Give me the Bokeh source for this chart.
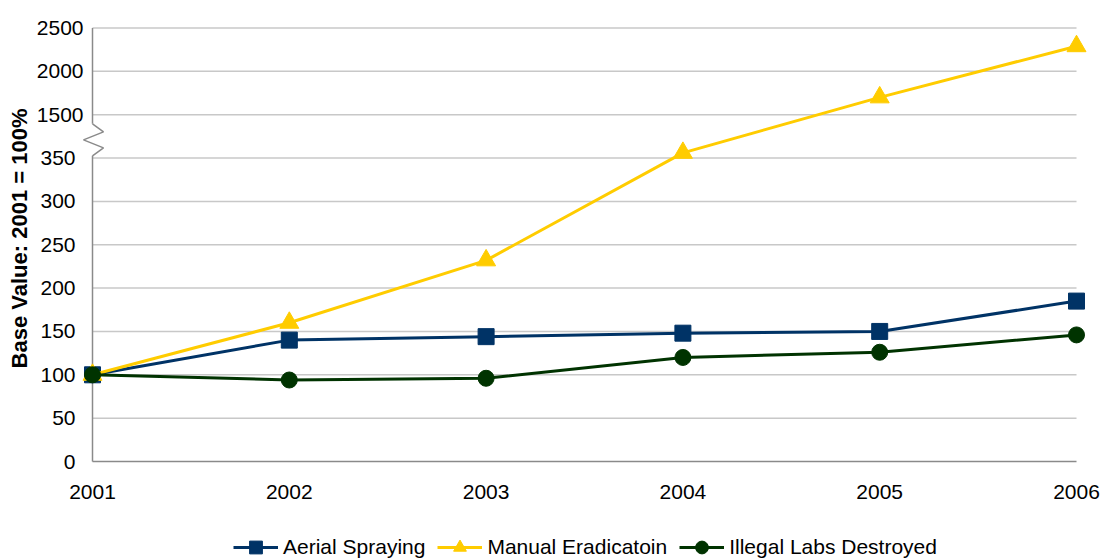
import math
import numpy as np
from bokeh.plotting import figure
from bokeh.models import FixedTicker, Range1d, Legend, LegendItem, Label, LinearAxis
from bokeh.embed import file_html
from bokeh.resources import INLINE

# ---- data: index values, 2001 = 100 ----
years = [2001, 2002, 2003, 2004, 2005, 2006]
aerial_spraying = [100, 140, 144, 148, 150, 185]
manual_eradication = [100, 160, 232, 356, 1700, 2290]
illegal_labs = [100, 94, 96, 120, 126, 146]

series_names = ["Aerial Spraying", "Manual Eradicatoin", "Illegal Labs Destroyed"]
year_labels = [str(y) for y in years]

lower_ticks = [0, 50, 100, 150, 200, 250, 300, 350]
upper_ticks = [1500, 2000, 2500]
upper_tick_labels = ["1500", "2000", "2500"]
y_title = "Base Value: 2001 = 100%"

# ---- broken y scale: linear below the break, compressed 10:1 above it ----
UPPER_START = 1500
UPPER_BASE = 400
UPPER_RATIO = 10
BREAK_AT = 371          # where the zigzag sits on the axis


def to_axis(v):
    v = np.asarray(v, dtype=float)
    return np.where(v >= UPPER_START, UPPER_BASE + (v - UPPER_START) / UPPER_RATIO, v)


# ---- layout: the frame covers the whole canvas, axes sit at fixed spots ----
FONT = "Liberation Sans"
W, H = 1101, 559
X0_PX, X1_PX = 92, 1076      # columns of the first and last year
Y0_PX, TOP_PX = 461, 27.5    # rows of the zero line and the top gridline
y_top = float(to_axis(upper_ticks[-1]))
ppy = (X1_PX - X0_PX) / (years[-1] - years[0])
ppu = (Y0_PX - TOP_PX) / y_top
x_range = Range1d(years[0] - X0_PX / ppy, years[-1] + (W - X1_PX) / ppy)
y_range = Range1d(-(H - Y0_PX) / ppu, Y0_PX / ppu)

AXIS_COLOR = "#8a8a8a"
GRID_COLOR = "#c8c8c8"
NAVY = "#003366"
GOLD = "#FFCC00"
GREEN = "#003300"

p = figure(
    width=W, height=H, min_border=0,
    min_border_left=0, min_border_right=0, min_border_top=0, min_border_bottom=0,
    x_range=x_range, y_range=y_range,
    output_backend="svg", toolbar_location=None,
)
p.outline_line_color = None
p.grid.visible = False
p.background_fill_color = "white"
p.border_fill_color = "white"


def style_axis(ax, standoff):
    ax.axis_line_color = None
    ax.major_tick_line_color = None
    ax.minor_tick_line_color = None
    ax.major_tick_out = 0
    ax.major_tick_in = 0
    ax.minor_tick_out = 0
    ax.minor_tick_in = 0
    ax.major_label_standoff = standoff
    ax.major_label_text_font = FONT
    ax.major_label_text_font_size = "21px"
    ax.major_label_text_color = "black"


# ---- x axis ----
xa = p.xaxis[0]
xa.fixed_location = 0
xa.ticker = FixedTicker(ticks=years)
xa.major_label_overrides = {y: s for y, s in zip(years, year_labels)}
style_axis(xa, 23)

# ---- y axis, lower (linear) segment ----
ya = p.yaxis[0]
ya.fixed_location = years[0]
ya.ticker = FixedTicker(ticks=lower_ticks)
ya.major_label_overrides = {t: str(t) for t in lower_ticks}
style_axis(ya, 17)

# ---- y axis, upper (compressed) segment ----
upper_pos = [float(v) for v in to_axis(upper_ticks)]
ya2 = LinearAxis(fixed_location=years[0], ticker=FixedTicker(ticks=upper_pos),
                 major_label_overrides={t: s for t, s in zip(upper_pos, upper_tick_labels)})
style_axis(ya2, 9)
p.add_layout(ya2, "left")

# ---- rotated y title ----
title_x = years[0] + (19 - X0_PX) / ppy
title_y = (Y0_PX - 238) / ppu
p.add_layout(Label(
    x=title_x, y=title_y, text=y_title, angle=math.pi / 2,
    text_align="center", text_baseline="middle",
    text_font=FONT, text_font_size="22px", text_font_style="bold", text_color="black",
))

# ---- horizontal gridlines ----
grid_vals = to_axis(lower_ticks[1:] + upper_ticks)
p.segment(x0=[years[0]] * len(grid_vals), x1=[years[-1]] * len(grid_vals),
          y0=grid_vals, y1=grid_vals, line_color=GRID_COLOR, line_width=1.5)

# ---- axis lines with the break symbol ----
zig_px = [(0, 16), (11, 8), (-9, 0), (11, -8), (0, -16)]
zig_x = [years[0] + dx / ppy for dx, dy in zig_px]
zig_y = [BREAK_AT + dy / ppu for dx, dy in zig_px]
p.line([years[0], years[-1]], [0, 0], line_color=AXIS_COLOR, line_width=1.5)
p.line([years[0], years[0]], [0, zig_y[-1]], line_color=AXIS_COLOR, line_width=1.5)
p.line([years[0], years[0]], [zig_y[0], y_top], line_color=AXIS_COLOR, line_width=1.5)
p.line(zig_x, zig_y, line_color=AXIS_COLOR, line_width=1.5)

# ---- series ----
items = []
specs = [
    (aerial_spraying, NAVY, "square", 16),
    (manual_eradication, GOLD, "triangle", 19),
    (illegal_labs, GREEN, "circle", 16),
]
for name, (vals, color, marker, size) in zip(series_names, specs):
    yv = to_axis(vals)
    lr = p.line(years, yv, line_color=color, line_width=3)
    sr = p.scatter(years, yv, marker=marker, size=size,
                   fill_color=color, line_color=color)
    items.append(LegendItem(label=name, renderers=[lr, sr]))

legend = Legend(
    items=items, orientation="horizontal", location=(233, -4),
    border_line_color=None, background_fill_alpha=0,
    glyph_width=45, glyph_height=32, label_standoff=5, spacing=12,
    padding=0, margin=0,
    label_text_font=FONT, label_text_font_size="21px", label_text_color="black",
)
p.add_layout(legend, "center")

open("out.html", "w").write(file_html(p, INLINE))
